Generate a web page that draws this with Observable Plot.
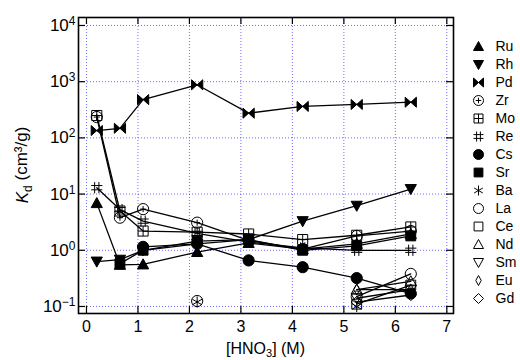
<!DOCTYPE html>
<html><head><meta charset="utf-8">
<script src="https://cdn.jsdelivr.net/npm/d3@7"></script>
<script src="https://cdn.jsdelivr.net/npm/@observablehq/plot@0.6"></script>
<style>
body{margin:0;background:#fff;}
#chart{position:relative;width:520px;height:360px;font-family:"Liberation Sans",Arial,sans-serif;}
#chart svg{position:absolute;top:0;}
</style></head><body><div id="chart"></div>
<script>
// ---- data ----
const hno3 = [0.2, 0.65, 1.1, 2.15, 3.15, 4.2, 5.25, 6.3];
const xTicks = [0, 1, 2, 3, 4, 5, 6, 7];
const yTicks = [0.1, 1, 10, 100, 1000, 10000];
const elements = ["Ru","Rh","Pd","Zr","Mo","Re","Cs","Sr","Ba","La","Ce","Nd","Sm","Eu","Gd"];
const Ru = [6.9, 0.55, 0.56, 0.93, 1.35, 1.05, 1.3, 1.95];
const Rh = [0.63, 0.68, 1.0, 1.3, 1.55, 3.3, 6.2, 12.3];
const Pd = [135, 148, 480, 880, 275, 363, 393, 431];
const Zr = [235, 3.8, 5.4, 3.1, 1.5, 1.05, 1.8, 2.2];
const Mo = [250, 5.0, 2.2, 2.1, 1.95, 1.55, 1.85, 2.6];
const Re = [13, 5.3, 3.3, 2.0, 1.4, 1.1, 1.0, 1.0];
const Cs = [null, null, 1.15, 1.3, 0.66, 0.5, 0.32, 0.17];
const Sr = [null, 0.58, 1.0, 1.45, 1.55, 1.0, 1.2, 1.8];
const Ba = [null, null, null, 0.12, null, null, 0.1, null];
const La = [null, null, null, 0.125, null, null, 0.15, 0.38];
const Ce = [null, null, null, null, null, null, 0.11, 0.24];
const Nd = [null, null, null, null, null, null, 0.2, 0.28];
const Sm = [null, null, null, null, null, null, 0.14, 0.2];
const Eu = [null, null, null, null, null, null, 0.2, 0.2];
const Gd = [null, null, null, null, null, null, 0.12, 0.16];
const seriesValues = {Ru, Rh, Pd, Zr, Mo, Re, Cs, Sr, Ba, La, Ce, Nd, Sm, Eu, Gd};

// ---- symbols ----
const R = s => Math.sqrt(s / Math.PI);
const triUp = {draw(c, s){const r = R(s); c.moveTo(0, -r); c.lineTo(r, r * 0.8); c.lineTo(-r, r * 0.8); c.closePath();}};
const triDown = {draw(c, s){const r = R(s); c.moveTo(0, r); c.lineTo(r, -r * 0.8); c.lineTo(-r, -r * 0.8); c.closePath();}};
const bowtie = {draw(c, s){const r = R(s); c.moveTo(-r, -r * 0.9); c.lineTo(0, 0); c.lineTo(-r, r * 0.9); c.closePath(); c.moveTo(r, -r * 0.9); c.lineTo(0, 0); c.lineTo(r, r * 0.9); c.closePath();}};
const circlePlus = {draw(c, s){const r = R(s); c.moveTo(r, 0); c.arc(0, 0, r, 0, 2 * Math.PI); c.moveTo(-r * 0.55, 0); c.lineTo(r * 0.55, 0); c.moveTo(0, -r * 0.55); c.lineTo(0, r * 0.55);}};
const squarePlus = {draw(c, s){const r = R(s) * 0.9; c.rect(-r, -r, 2 * r, 2 * r); c.moveTo(-r, 0); c.lineTo(r, 0); c.moveTo(0, -r); c.lineTo(0, r);}};
const hash = {draw(c, s){const r = R(s), k = r * 0.38; c.moveTo(-k, -r); c.lineTo(-k, r); c.moveTo(k, -r); c.lineTo(k, r); c.moveTo(-r, -k); c.lineTo(r, -k); c.moveTo(-r, k); c.lineTo(r, k);}};
const circle = {draw(c, s){const r = R(s); c.moveTo(r, 0); c.arc(0, 0, r, 0, 2 * Math.PI);}};
const square = {draw(c, s){const r = R(s) * 0.88; c.rect(-r, -r, 2 * r, 2 * r);}};
const star = {draw(c, s){const r = R(s); for (const a of [90, 30, -30]) {const t = a * Math.PI / 180; c.moveTo(r * Math.cos(t), -r * Math.sin(t)); c.lineTo(-r * Math.cos(t), r * Math.sin(t));}}};
const diamondN = {draw(c, s){const r = R(s); c.moveTo(0, -r); c.lineTo(r * 0.55, 0); c.lineTo(0, r); c.lineTo(-r * 0.55, 0); c.closePath();}};
const diamondW = {draw(c, s){const r = R(s); c.moveTo(0, -r); c.lineTo(r, 0); c.lineTo(0, r); c.lineTo(-r, 0); c.closePath();}};
const style = {
  Ru: [triUp, true], Rh: [triDown, true], Pd: [bowtie, true], Zr: [circlePlus, false],
  Mo: [squarePlus, false], Re: [hash, false], Cs: [circle, true], Sr: [square, true],
  Ba: [star, false], La: [circle, false], Ce: [square, false], Nd: [triUp, false],
  Sm: [triDown, false], Eu: [diamondN, false], Gd: [diamondW, false]
};

const rows = elements.map(name => ({name, pts: hno3.map((x, i) => ({x, y: seriesValues[name][i] ?? undefined}))}));

const W = 520, H = 360, mL = 78, mR = 67, mT = 17, mB = 47;
const iw = W - mL - mR, ih = H - mT - mB, tk = 7;

const marks = [
  Plot.gridX(xTicks, {stroke: "#3b3bff", strokeOpacity: 0.75, strokeDasharray: "1,2"}),
  Plot.gridY(yTicks, {stroke: "#3b3bff", strokeOpacity: 0.75, strokeDasharray: "1,2"})
];
for (const r of rows) {
  marks.push(Plot.line(r.pts, {x: "x", y: "y", stroke: "black", strokeWidth: 1.3}));
}
for (const r of rows) {
  const [sym, fill] = style[r.name];
  marks.push(Plot.dot(r.pts.filter(d => d.y !== undefined), {
    x: "x", y: "y", symbol: sym, r: 5.6,
    fill: fill ? "black" : "none", stroke: "black", strokeWidth: 1
  }));
}
marks.push(
  Plot.ruleX(xTicks, {insetTop: ih - tk, stroke: "black", strokeWidth: 1.2}),
  Plot.ruleX(xTicks, {insetBottom: ih - tk, stroke: "black", strokeWidth: 1.2}),
  Plot.ruleY(yTicks, {insetRight: iw - tk, stroke: "black", strokeWidth: 1.2}),
  Plot.ruleY(yTicks, {insetLeft: iw - tk, stroke: "black", strokeWidth: 1.2}),
  Plot.frame({stroke: "black", strokeWidth: 1.6}),
  Plot.axisX(xTicks, {anchor: "bottom", tickSize: 0, tickPadding: 7, label: null, fontSize: 16}),
  Plot.axisY(yTicks, {anchor: "left", tickSize: 0, tickPadding: 3, label: null, fontSize: 17,
    tickFormat: d => "10^" + Math.round(Math.log10(d))})
);

const chart = Plot.plot({
  width: W, height: H, marginLeft: mL, marginRight: mR, marginTop: mT, marginBottom: mB,
  style: {fontFamily: "Liberation Sans, Arial, sans-serif", background: "white", color: "black", overflow: "visible"},
  x: {domain: [-0.155, 7.13]},
  y: {type: "log", domain: [Math.pow(10, -1.125), Math.pow(10, 4.142)]},
  marks
});

const svg = d3.select(chart);
svg.selectAll('g[aria-label="y-axis tick label"] text').each(function () {
  const [base, exp] = this.textContent.split("^");
  const t = d3.select(this);
  t.text(null);
  t.append("tspan").text(base);
  t.append("tspan").attr("dy", "-0.5em").attr("font-size", "12px").text(exp.replace("-", "\u2212"));
});
// x title
const xt = svg.append("text").attr("x", mL + iw / 2).attr("y", H - 6).attr("text-anchor", "middle")
  .attr("font-size", 16).attr("fill", "black");
xt.append("tspan").text("[HNO");
xt.append("tspan").attr("dy", "3").attr("font-size", "11px").text("3");
xt.append("tspan").attr("dy", "-3").text("] (M)");
// y title
const yt = svg.append("text").attr("transform", `translate(28,${mT + ih / 2}) rotate(-90)`)
  .attr("text-anchor", "middle").attr("font-size", 17).attr("fill", "black");
yt.append("tspan").attr("font-style", "italic").text("K");
yt.append("tspan").attr("dy", "0.3em").attr("font-size", "12px").text("d");
yt.append("tspan").attr("dy", "-0.3em").text(" (cm³/g)");

document.getElementById("chart").appendChild(chart);

// ---- legend ----
const legMarks = [];
for (const name of elements) {
  const [sym, fill] = style[name];
  legMarks.push(Plot.dot([name], {x: () => 0, y: d => d, symbol: sym, r: 5,
    fill: fill ? "black" : "none", stroke: "black", strokeWidth: 1}));
}
legMarks.push(Plot.text(elements, {x: () => 0, y: d => d, text: d => d, dx: 17, textAnchor: "start", fontSize: 14, fill: "black"}));
const legend = Plot.plot({
  width: 60, height: H, marginLeft: 18, marginRight: 40, marginTop: 42, marginBottom: H - 302,
  style: {fontFamily: "Liberation Sans, Arial, sans-serif", background: "transparent", overflow: "visible"},
  x: {domain: [0, 1], axis: null},
  y: {type: "point", domain: elements, padding: 0, axis: null},
  marks: legMarks
});
legend.style.left = "460px";
document.getElementById("chart").appendChild(legend);
</script></body></html>
